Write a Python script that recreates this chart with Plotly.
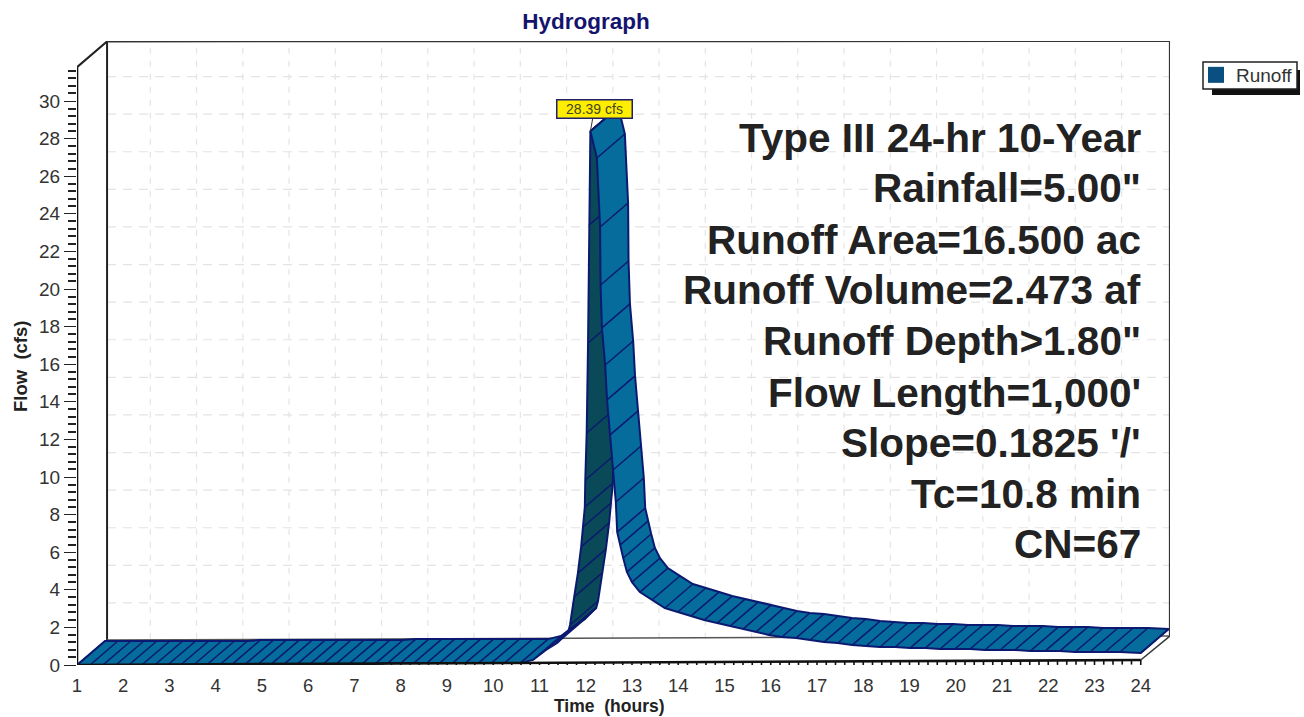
import numpy as np
import plotly.graph_objects as go

# ---------- data ----------
TIME = [1.00,1.28,1.56,1.84,2.12,2.40,2.68,2.96,3.24,3.52,3.80,4.08,4.36,4.64,4.92,5.20,5.48,5.76,
        6.04,6.32,6.60,6.88,7.16,7.44,7.72,8.00,8.28,8.56,8.84,9.12,9.40,9.68,9.96,10.24,
        10.58,10.86,11.14,11.38,11.62,11.66,11.75,11.83,11.90,11.94,11.98,11.99,12.02,12.05,12.07,12.10,
        12.24,12.31,12.32,12.35,12.42,12.46,12.52,12.59,12.65,12.68,12.74,12.81,12.89,13.00,13.17,13.43,13.71,
        13.99,14.28,14.56,14.84,15.12,15.40,15.68,15.96,16.24,16.55,16.85,17.15,17.45,17.76,18.06,18.36,
        18.69,19.01,19.34,19.66,19.98,20.31,20.63,20.96,21.28,21.61,21.93,22.25,22.58,22.90,23.23,23.55,24.00]
FLOW = [0.00,0.00,0.00,0.00,0.00,0.00,0.00,0.00,0.00,0.00,0.00,0.00,0.05,0.05,0.05,0.05,0.05,0.05,
        0.05,0.05,0.05,0.05,0.05,0.05,0.10,0.10,0.10,0.10,0.10,0.10,0.10,0.10,0.10,0.10,
        0.10,0.27,0.80,1.17,1.76,2.13,3.62,4.89,6.28,7.34,8.40,9.84,12.34,17.13,23.40,28.39,
        26.97,23.30,20.21,17.93,15.96,14.10,12.23,10.37,8.67,7.07,6.38,5.69,4.95,4.41,3.88,3.46,3.03,
        2.82,2.61,2.39,2.23,2.07,1.91,1.76,1.60,1.49,1.44,1.33,1.22,1.17,1.06,1.01,0.96,
        0.96,0.90,0.90,0.85,0.85,0.85,0.80,0.80,0.80,0.74,0.74,0.74,0.69,0.69,0.69,0.69,0.64]
SERIES_NAME = "Runoff"
PEAK_LABEL = "28.39 cfs"
CROSS_TIME = 11.62          # where the ribbon turns its underside to the viewer
X_TICKS = list(range(1, 25))
Y_TICKS = list(range(0, 31, 2))
NOTES = ["Type III 24-hr 10-Year", 'Rainfall=5.00"', "Runoff Area=16.500 ac", "Runoff Volume=2.473 af",
         'Runoff Depth>1.80"', "Flow Length=1,000'", "Slope=0.1825 '/'", "Tc=10.8 min", "CN=67"]
NOTE_Y_PX = [138, 188, 240, 290, 341, 393, 443, 494, 544]

# ---------- geometry / style ----------
W, H = 1304, 717
L, R, T, B = 77, 1170, 41, 665
X0, X1 = 1.0, 1 + (R - L) / 46.25
Y0, Y1 = 0.0, (B - T) / 18.8
RIB_DX, RIB_DY = 28 / 46.25, 24 / 18.8      # ribbon depth in data units
GRID_DX, GRID_DY = 0.585, 1.30
WALL_L, WALL_R = 1.65, 24.63
AXIS_TOP = 31.8
TILT = 0.266                                 # the scanned x axis climbs slightly to the right
LIGHT, DARK, EDGE = "#066c9c", "#0a4a58", "#0b1a70"
INK = "#2a2a2a"
FONT = "Liberation Sans"

def px(x):
    return (x - L) / (R - L)
def py(y):
    return (B - y) / (B - T)
def base(t):
    return TILT * (t - 1) / 23

fig = go.Figure()

def segs(xs, ys, color, width, dash=None, clip=False):
    fig.add_trace(go.Scatter(x=xs, y=ys, mode="lines", showlegend=False, hoverinfo="skip",
                             cliponaxis=clip, line=dict(color=color, width=width, dash=dash)))

# back wall grid
gx, gy = [], []
for t in X_TICKS[1:-1]:
    gx += [t + GRID_DX, t + GRID_DX, None]
    gy += [GRID_DY + 0.1, Y1, None]
segs(gx, gy, "#e4e4e4", 1.2, "6px,7px")
gx, gy = [], []
for q in Y_TICKS[1:]:
    gx += [WALL_L, WALL_R, None]
    gy += [q + GRID_DY, q + GRID_DY, None]
segs(gx, gy, "#e4e4e4", 1.2, "9px,7px")

# frame
segs([1, WALL_L, WALL_L], [AXIS_TOP, Y1 - 0.02, 1.33], "#222222", 2)
segs([WALL_L, WALL_R, WALL_R], [Y1 - 0.02, Y1, 1.54], "#333333", 2)
segs([WALL_L, WALL_R], [1.33, 1.54], "#555555", 1.5)
segs([24, WALL_R], [base(24), 1.54], "#333333", 1.5)

# ribbon
t = np.array(TIME)
q = np.array(FLOW)
i_cross = TIME.index(CROSS_TIME)
i_peak = FLOW.index(max(FLOW))

def ribbon(i0, i1, color):
    ft, fq = t[i0:i1 + 1], q[i0:i1 + 1]
    xs = list(ft) + list(ft[::-1] + RIB_DX) + [ft[0]]
    ys = list(fq) + list(fq[::-1] + RIB_DY) + [fq[0]]
    fig.add_trace(go.Scatter(x=xs, y=ys, mode="lines", fill="toself", fillcolor=color,
                             line=dict(color=EDGE, width=2), showlegend=False, hoverinfo="skip",
                             cliponaxis=False))

def hatch(i0, i1):
    hx, hy = [], []
    for a, b in zip(t[i0:i1 + 1], q[i0:i1 + 1]):
        hx += [a, a + RIB_DX, None]
        hy += [b, b + RIB_DY, None]
    segs(hx, hy, EDGE, 1.5)

ribbon(i_cross, i_peak, DARK)
hatch(i_cross, i_peak)
ribbon(0, i_cross, LIGHT)
hatch(0, i_cross)
ribbon(i_peak, len(TIME) - 1, LIGHT)
hatch(i_peak, len(TIME) - 1)

# front axes
segs([1, 1], [0, AXIS_TOP], "#111111", 2.6)
segs([1, 24], [base(1), base(24)], "#111111", 2.6)
tx, ty = [], []
for a in np.arange(1, 24.01, 0.2):
    major = abs(a - round(a)) < 1e-6
    tx += [a, a, None]
    ty += [base(a), base(a) - (0.46 if major else 0.24), None]
segs(tx, ty, "#111111", 1.6)

# legend entry
fig.add_trace(go.Scatter(x=[None], y=[None], mode="markers", name=SERIES_NAME,
                         marker=dict(symbol="square", size=16, color="#0a4f80")))

ann = []
for text, y in zip(NOTES, NOTE_Y_PX):
    ann.append(dict(xref="paper", yref="paper", x=px(1143), y=py(y), text=text, showarrow=False,
                    xanchor="right", yanchor="middle",
                    font=dict(family=FONT, size=40.5, color="#222222", weight="bold")))
ann.append(dict(x=TIME[i_peak], y=FLOW[i_peak], text=PEAK_LABEL, showarrow=True, arrowhead=0,
                arrowwidth=1, arrowcolor="#333333", ax=4, ay=-22, standoff=0,
                bgcolor="#ffee00", bordercolor="#20206a", borderwidth=1.5, width=72, height=15,
                font=dict(family=FONT, size=14, color="#444422")))
ann.append(dict(xref="paper", yref="paper", x=px(609), y=py(717), text="Time  (hours)", showarrow=False,
                xanchor="center", yanchor="bottom", borderpad=0,
                font=dict(family=FONT, size=17.5, color="#222222", weight="bold")))
ann.append(dict(xref="paper", yref="paper", x=px(21), y=py(367), text="Flow  (cfs)", showarrow=False,
                textangle=-90, xanchor="center", yanchor="middle",
                font=dict(family=FONT, size=18.5, color="#222222", weight="bold")))

fig.update_layout(
    width=W, height=H, autosize=False,
    margin=dict(l=L, r=W - R, t=T, b=H - B, pad=0),
    paper_bgcolor="white", plot_bgcolor="rgba(0,0,0,0)",
    font=dict(family=FONT, color=INK),
    title=dict(text="Hydrograph", x=586 / W, y=1 - 21 / H, xanchor="center", yanchor="middle", xref="container",
               font=dict(family=FONT, size=22.5, color="#14146e", weight="bold")),
    xaxis=dict(range=[X0, X1], tickvals=X_TICKS, ticktext=[str(v) for v in X_TICKS], ticks="outside", ticklen=4,
               tickcolor="rgba(0,0,0,0)", showgrid=False, zeroline=False, showline=False,
               tickfont=dict(family=FONT, size=18.5, color="#333333")),
    yaxis=dict(range=[Y0, Y1], tickvals=Y_TICKS, ticks="outside", ticklen=12, tickwidth=1.4, tickcolor="#222222",
               showgrid=False, zeroline=False, showline=False,
               tickfont=dict(family=FONT, size=19, color="#333333"),
               minor=dict(tickvals=[v for v in np.arange(0, 31.7, 0.4) if abs(v / 2 - round(v / 2)) > 1e-6],
                          ticks="outside", ticklen=8, tickwidth=1.6, tickcolor="#222222", showgrid=False)),
    showlegend=True,
    legend=dict(xref="container", yref="container", x=1196 / W, y=1 - 56 / H, xanchor="left", yanchor="top",
                bgcolor="rgba(0,0,0,0)", borderwidth=0,
                font=dict(family=FONT, size=19, color="#333333")),
    annotations=ann,
    shapes=[dict(type="rect", xref="paper", yref="paper", x0=px(1212), x1=px(1300), y0=py(95), y1=py(70),
                 fillcolor="#111111", line=dict(width=0), layer="below"),
            dict(type="rect", xref="paper", yref="paper", x0=px(1203), x1=px(1297), y0=py(89), y1=py(62),
                 fillcolor="white", line=dict(color="#222222", width=1.5), layer="below")],
)

fig.write_html("out.html", config={"displayModeBar": False}, post_script="document.body.style.margin='0';")
